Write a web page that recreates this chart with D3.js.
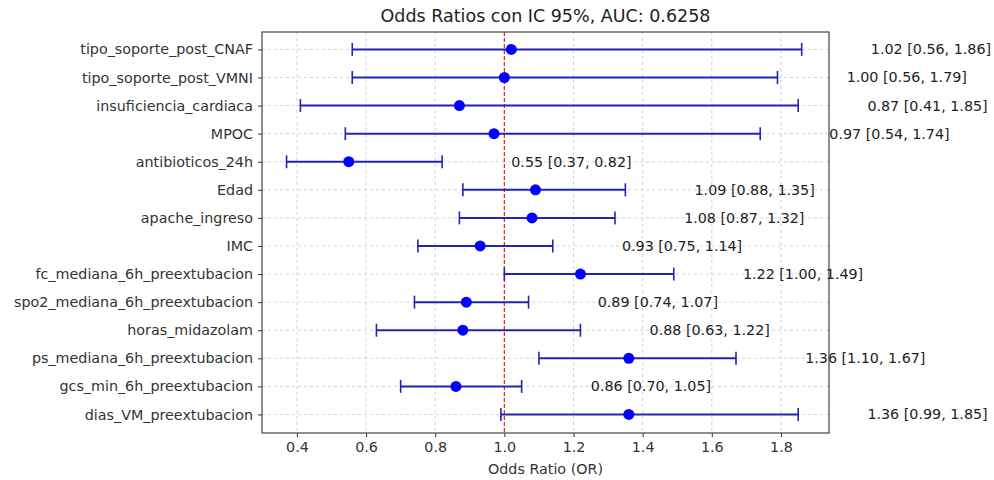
<!DOCTYPE html>
<html>
<head>
<meta charset="utf-8">
<script src="https://cdn.jsdelivr.net/npm/d3@7"></script>
<style>
  body { margin: 0; background: #fff; }
  svg { font-family: "DejaVu Sans", sans-serif; }
</style>
</head>
<body>
<svg id="chart"></svg>
<script>
// variables, top to bottom
var variables = ['tipo_soporte_post_CNAF', 'tipo_soporte_post_VMNI', 'insuficiencia_cardiaca', 'MPOC',
  'antibioticos_24h', 'Edad', 'apache_ingreso', 'IMC', 'fc_mediana_6h_preextubacion',
  'spo2_mediana_6h_preextubacion', 'horas_midazolam', 'ps_mediana_6h_preextubacion',
  'gcs_min_6h_preextubacion', 'dias_VM_preextubacion'];
var oddsRatio = [1.02, 1.00, 0.87, 0.97, 0.55, 1.09, 1.08, 0.93, 1.22, 0.89, 0.88, 1.36, 0.86, 1.36];
var ciLower   = [0.56, 0.56, 0.41, 0.54, 0.37, 0.88, 0.87, 0.75, 1.00, 0.74, 0.63, 1.10, 0.70, 0.99];
var ciUpper   = [1.86, 1.79, 1.85, 1.74, 0.82, 1.35, 1.32, 1.14, 1.49, 1.07, 1.22, 1.67, 1.05, 1.85];
var xTicks = [0.4, 0.6, 0.8, 1.0, 1.2, 1.4, 1.6, 1.8];

var width = 994;
var height = 480;
var margin = {top: 32, right: 165, bottom: 47, left: 262};
var fontSize = 14.3;

var svg = d3.select('#chart')
  .attr('width', width)
  .attr('height', height);

var x = d3.scaleLinear()
  .domain([0.299, 1.939])
  .range([margin.left, width - margin.right]);

var y = d3.scaleLinear()
  .domain([-0.62, variables.length - 1 + 0.66])
  .range([margin.top, height - margin.bottom]);

var lineColor = '#2323b8';

// grid
var grid = svg.append('g').attr('class', 'grid');
grid.selectAll('line.vg')
  .data(xTicks)
  .enter().append('line')
  .attr('class', 'vg')
  .attr('x1', function(d) { return x(d); })
  .attr('x2', function(d) { return x(d); })
  .attr('y1', margin.top)
  .attr('y2', height - margin.bottom)
  .attr('stroke', '#c8c8c8')
  .attr('stroke-width', 0.8)
  .attr('stroke-dasharray', '3,3');
grid.selectAll('line.hg')
  .data(variables)
  .enter().append('line')
  .attr('class', 'hg')
  .attr('x1', margin.left)
  .attr('x2', width - margin.right)
  .attr('y1', function(d, i) { return y(i); })
  .attr('y2', function(d, i) { return y(i); })
  .attr('stroke', '#c8c8c8')
  .attr('stroke-width', 0.8)
  .attr('stroke-dasharray', '3,3');

// reference line at OR = 1
svg.append('line')
  .attr('x1', x(1)).attr('x2', x(1))
  .attr('y1', margin.top).attr('y2', height - margin.bottom)
  .attr('stroke', '#e02020')
  .attr('stroke-width', 1.2)
  .attr('stroke-dasharray', '4,2');

// error bars
var rows = svg.append('g').attr('class', 'rows')
  .selectAll('g')
  .data(variables)
  .enter().append('g');

rows.append('line')
  .attr('x1', function(d, i) { return x(ciLower[i]); })
  .attr('x2', function(d, i) { return x(ciUpper[i]); })
  .attr('y1', function(d, i) { return y(i); })
  .attr('y2', function(d, i) { return y(i); })
  .attr('stroke', lineColor)
  .attr('stroke-width', 2);

rows.append('line')
  .attr('x1', function(d, i) { return x(ciLower[i]); })
  .attr('x2', function(d, i) { return x(ciLower[i]); })
  .attr('y1', function(d, i) { return y(i) - 6.5; })
  .attr('y2', function(d, i) { return y(i) + 6.5; })
  .attr('stroke', lineColor)
  .attr('stroke-width', 1.6);

rows.append('line')
  .attr('x1', function(d, i) { return x(ciUpper[i]); })
  .attr('x2', function(d, i) { return x(ciUpper[i]); })
  .attr('y1', function(d, i) { return y(i) - 6.5; })
  .attr('y2', function(d, i) { return y(i) + 6.5; })
  .attr('stroke', lineColor)
  .attr('stroke-width', 1.6);

rows.append('circle')
  .attr('cx', function(d, i) { return x(oddsRatio[i]); })
  .attr('cy', function(d, i) { return y(i); })
  .attr('r', 5.5)
  .attr('fill', '#0000ff');

// value labels
rows.append('text')
  .attr('x', function(d, i) { return x(ciUpper[i] + 0.2); })
  .attr('y', function(d, i) { return y(i); })
  .attr('dy', '0.35em')
  .attr('font-size', fontSize)
  .attr('fill', '#222')
  .text(function(d, i) {
    return oddsRatio[i].toFixed(2) + ' [' + ciLower[i].toFixed(2) + ', ' + ciUpper[i].toFixed(2) + ']';
  });

// axes
var xAxis = svg.append('g')
  .attr('transform', 'translate(0,' + (height - margin.bottom) + ')')
  .call(d3.axisBottom(x).tickValues(xTicks).tickFormat(d3.format('.1f')).tickSize(4).tickPadding(5));
xAxis.select('.domain').remove();
xAxis.selectAll('text').attr('font-size', fontSize).attr('fill', '#333').attr('font-family', 'DejaVu Sans');
xAxis.selectAll('line').attr('stroke', '#333');

var yAxis = svg.append('g')
  .attr('transform', 'translate(' + margin.left + ',0)')
  .call(d3.axisLeft(y).tickValues(d3.range(variables.length))
    .tickFormat(function(d) { return variables[d]; }).tickSize(4).tickPadding(5));
yAxis.select('.domain').remove();
yAxis.selectAll('text').attr('font-size', fontSize).attr('fill', '#333').attr('font-family', 'DejaVu Sans');
yAxis.selectAll('line').attr('stroke', '#333');

// frame
svg.append('rect')
  .attr('x', margin.left)
  .attr('y', margin.top)
  .attr('width', width - margin.right - margin.left)
  .attr('height', height - margin.bottom - margin.top)
  .attr('fill', 'none')
  .attr('stroke', '#444')
  .attr('stroke-width', 1.2);

// title and axis label
svg.append('text')
  .attr('x', (margin.left + width - margin.right) / 2)
  .attr('y', 22)
  .attr('text-anchor', 'middle')
  .attr('font-size', 17.5)
  .attr('fill', '#222')
  .text('Odds Ratios con IC 95%, AUC: 0.6258');

svg.append('text')
  .attr('x', (margin.left + width - margin.right) / 2)
  .attr('y', 474)
  .attr('text-anchor', 'middle')
  .attr('font-size', fontSize)
  .attr('fill', '#333')
  .text('Odds Ratio (OR)');
</script>
</body>
</html>
